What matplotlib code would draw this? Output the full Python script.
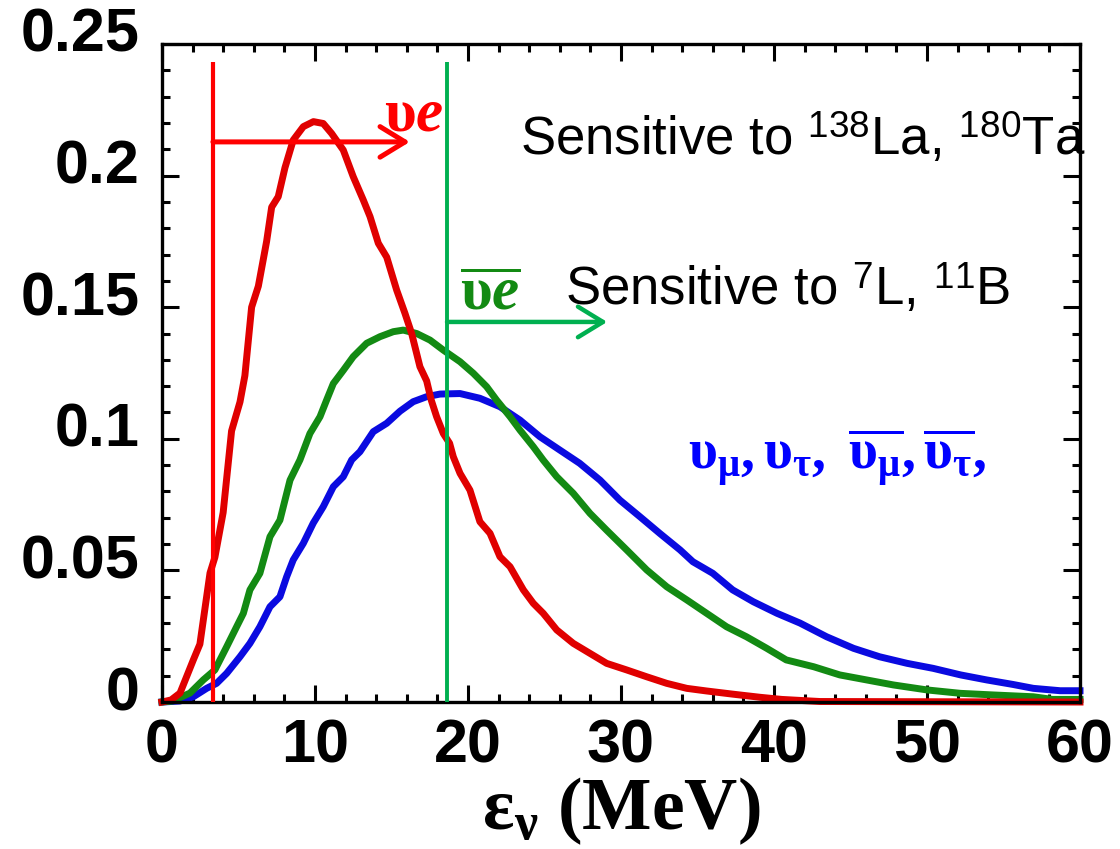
import matplotlib

matplotlib.use("Agg")
import matplotlib.pyplot as plt
from matplotlib.transforms import ScaledTranslation

# electron neutrino spectrum
NUE_E = [0, 0.6, 1.18, 2.05, 2.48, 3.14, 3.46, 4.0, 4.55, 5.1, 5.42, 5.86, 6.3, 6.84, 7.17, 7.6,
         8.04, 8.58, 9.24, 9.9, 10.54, 11.09, 11.85, 12.5, 13.16, 13.6, 14.14, 14.69, 15.34,
         15.88, 16.32, 16.86, 17.3, 17.6, 17.95, 18.39, 18.8, 19.04, 19.48, 20.13, 20.78, 21.44,
         22.09, 22.75, 23.62, 24.27, 24.92, 25.8, 26.88, 27.97, 29.06, 30.37, 31.68, 32.99,
         34.3, 35.6, 37.3, 39.1, 40.5, 43.0, 60.0]
NUE_V = [0, 0.0008, 0.0034, 0.016, 0.022, 0.049, 0.055, 0.072, 0.103, 0.114, 0.124, 0.150,
         0.158, 0.175, 0.188, 0.192, 0.203, 0.2135, 0.2186, 0.2205, 0.2198, 0.216, 0.2097,
         0.1996, 0.1907, 0.1844, 0.1743, 0.169, 0.1565, 0.1477, 0.140, 0.1274, 0.122, 0.1147,
         0.1084, 0.102, 0.0983, 0.0932, 0.0869, 0.0805, 0.0685, 0.0641, 0.0552, 0.0514, 0.0426,
         0.0375, 0.0337, 0.0274, 0.0223, 0.0185, 0.0147, 0.0122, 0.0096, 0.0071, 0.0052,
         0.0042, 0.0030, 0.0018, 0.001, 0.0002, 0.0]

# electron antineutrino spectrum
ANUE_E = [0, 0.7, 1.83, 2.7, 3.46, 4.23, 4.88, 5.32, 5.75, 6.4, 7.06, 7.71, 8.37, 9.02, 9.67,
          10.33, 10.76, 11.2, 11.85, 12.5, 13.38, 14.25, 15.12, 15.77, 16.65, 17.52, 18.39,
          19.48, 20.35, 21.22, 21.87, 22.75, 23.4, 24.27, 24.92, 25.8, 26.88, 27.97, 29.06,
          30.37, 31.68, 32.99, 34.3, 35.6, 36.9, 38.2, 39.5, 40.8, 42.6, 44.3, 46.05, 47.8,
          50.0, 52.2, 54.3, 56.95, 58.2, 60.0]
ANUE_V = [0, 0.0004, 0.0034, 0.0084, 0.0122, 0.021, 0.0286, 0.0337, 0.0426, 0.0489, 0.0628,
          0.0691, 0.0843, 0.092, 0.102, 0.1084, 0.1147, 0.121, 0.126, 0.1312, 0.1363, 0.1388,
          0.1407, 0.1413, 0.140, 0.1375, 0.1337, 0.1293, 0.1249, 0.1198, 0.1147, 0.1084,
          0.1033, 0.097, 0.0919, 0.0856, 0.0793, 0.0717, 0.0653, 0.0578, 0.0502, 0.0438,
          0.0388, 0.0337, 0.0286, 0.0248, 0.0205, 0.016, 0.0134, 0.0103, 0.0084, 0.0065,
          0.0046, 0.0033, 0.0027, 0.002, 0.001, 0.001]

# mu/tau (anti)neutrino spectrum
NUX_E = [0, 1.18, 2.05, 2.92, 3.57, 4.23, 5.1, 5.75, 6.4, 7.06, 7.71, 8.15, 8.58, 9.24, 9.89,
         10.54, 11.2, 11.85, 12.4, 12.94, 13.81, 14.69, 15.56, 16.42, 17.3, 18.17, 19.48,
         20.78, 22.09, 23.4, 24.7, 26.01, 27.3, 28.63, 29.93, 31.24, 32.55, 33.86, 34.7, 36.0,
         37.3, 38.65, 40.2, 41.7, 43.44, 45.2, 46.9, 48.7, 50.4, 52.2, 53.9, 55.6, 56.95,
         58.7, 60.0]
NUX_V = [0, 0.0004, 0.002, 0.0052, 0.0071, 0.0109, 0.0172, 0.0223, 0.0286, 0.0362, 0.040,
         0.0476, 0.054, 0.0603, 0.068, 0.0742, 0.0818, 0.0856, 0.092, 0.0951, 0.1027, 0.1059,
         0.1105, 0.1141, 0.116, 0.117, 0.1172, 0.1154, 0.1122, 0.1071, 0.1008, 0.0957, 0.0907,
         0.0843, 0.0767, 0.0704, 0.064, 0.0578, 0.0533, 0.0489, 0.0426, 0.0381, 0.0337, 0.030,
         0.0248, 0.0204, 0.0172, 0.0147, 0.0128, 0.0103, 0.0084, 0.0067, 0.0052, 0.0043,
         0.0043]

# detection thresholds (MeV) and the height of the marker lines
THRESH_NUE = 3.33
THRESH_ANUE = 18.63
THRESH_TOP = 0.243
ARROW_NUE = (16.2, 0.2128)
ARROW_ANUE = (29.1, 0.1444)

X_TICKS = [0, 10, 20, 30, 40, 50, 60]
Y_TICKS = [0, 0.05, 0.1, 0.15, 0.2, 0.25]
Y_TICKLABELS = ["0", "0.05", "0.1", "0.15", "0.2", "0.25"]

RED = "#e00000"
RED_LINE = "#ff0000"
GREEN = "#138a13"
GREEN_LINE = "#00b050"
BLUE = "#0a0ae0"

plt.rcParams["mathtext.fontset"] = "custom"
plt.rcParams["mathtext.rm"] = "Liberation Serif:bold"
plt.rcParams["mathtext.bf"] = "Liberation Serif:bold"
plt.rcParams["mathtext.it"] = "Liberation Serif:italic:bold"
plt.rcParams["mathtext.sf"] = "Liberation Sans"
plt.rcParams["mathtext.default"] = "rm"

fig = plt.figure(figsize=(11.2, 8.49), dpi=100)
ax = fig.add_axes([0.1446, 0.1731, 0.8197, 0.7751])

ax.plot(NUX_E, NUX_V, color=BLUE, lw=5, clip_on=False, zorder=3)
ax.plot(ANUE_E, ANUE_V, color=GREEN, lw=5, clip_on=False, zorder=3)
ax.plot(NUE_E, NUE_V, color=RED, lw=5, clip_on=False, zorder=3)

ax.vlines(THRESH_NUE, 0, THRESH_TOP, color=RED_LINE, lw=3.0, zorder=4)
ax.vlines(THRESH_ANUE, 0, THRESH_TOP, color=GREEN_LINE, lw=2.8, zorder=4)
ax.annotate("", xy=ARROW_NUE, xytext=(THRESH_NUE, ARROW_NUE[1]),
            arrowprops=dict(arrowstyle="->,head_length=0.9,head_width=0.55", color=RED_LINE,
                            lw=3.6, mutation_scale=20, shrinkA=0, shrinkB=0), zorder=4)
ax.annotate("", xy=ARROW_ANUE, xytext=(THRESH_ANUE, ARROW_ANUE[1]),
            arrowprops=dict(arrowstyle="->,head_length=0.9,head_width=0.55", color=GREEN_LINE,
                            lw=3.2, mutation_scale=20, shrinkA=0, shrinkB=0), zorder=4)

ax.text(14.5, 0.2173, r"$\upsilon\mathit{e}$", color=RED_LINE, fontsize=44, ha="left", va="baseline")
ax.text(19.5, 0.149, r"$\overline{\upsilon\mathit{e}}$", color=GREEN, fontsize=44, ha="left", va="baseline")
ax.text(34.38, 0.0881, r"$\upsilon_\mu,\upsilon_\tau,\ \overline{\upsilon_\mu},\overline{\upsilon_\tau},$",
        color="#0000ff", fontsize=40, ha="left", va="baseline")

ax.text(23.4, 0.2078, r"Sensitive to $^{\mathsf{138}}$La, $^{\mathsf{180}}$Ta",
        family="Liberation Sans", fontsize=38, ha="left", va="baseline")
ax.text(26.34, 0.1508, r"Sensitive to $^{\mathsf{7}}$L, $^{\mathsf{11}}$B",
        family="Liberation Sans", fontsize=38, ha="left", va="baseline")

ax.set_xlim(0, 60)
ax.set_ylim(0, 0.25)
ax.set_xticks(X_TICKS)
ax.set_xticks(range(0, 61, 2), minor=True)
ax.set_yticks(Y_TICKS)
ax.set_yticklabels(Y_TICKLABELS)
ax.set_yticks([i * 0.01 for i in range(26)], minor=True)
ax.tick_params(which="both", direction="in", top=True, right=True, width=2.2)
ax.tick_params(which="major", length=12)
ax.tick_params(which="minor", length=6)
ax.tick_params(axis="x", pad=12)
ax.tick_params(axis="y", pad=16)
for lab in ax.get_xticklabels() + ax.get_yticklabels():
    lab.set_fontfamily("Liberation Sans")
    lab.set_fontweight("bold")
    lab.set_fontsize(44)
# y labels sit a little above their ticks
shift = ScaledTranslation(0, 14 / 100, fig.dpi_scale_trans)
for lab in ax.get_yticklabels():
    lab.set_transform(lab.get_transform() + shift)
for sp in ax.spines.values():
    sp.set_linewidth(2.4)
    sp.set_zorder(3.5)

ax.set_xlabel(r"$\varepsilon_\nu$ (MeV)", family="Liberation Serif", fontweight="bold",
              fontsize=53, labelpad=0)

fig.savefig("out.png", dpi=100)
